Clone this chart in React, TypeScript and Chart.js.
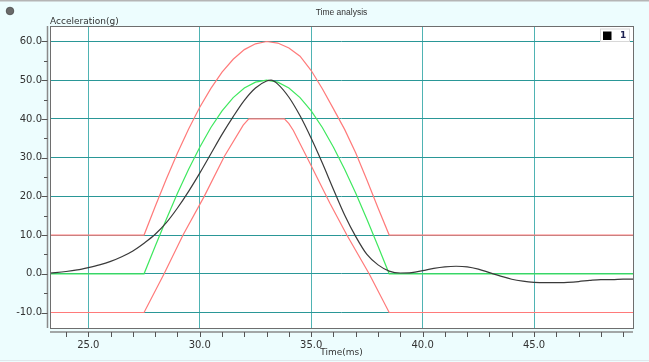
import React, { useEffect, useRef } from "react";
import { Chart, registerables } from "chart.js";

Chart.register(...registerables);

const X_MIN = 23.28;
const X_MAX = 49.44;
const Y_MIN = -14;
const Y_MAX = 64;

const xTickValues = [25, 30, 35, 40, 45];
const yTickValues = [-10, 0, 10, 20, 30, 40, 50, 60];

const measuredTime = [23.28, 24, 24.5, 25, 25.5, 26, 26.5, 27, 27.5, 28, 28.5, 29, 29.5, 30, 30.5, 31, 31.5, 32, 32.5, 33, 33.2, 33.5, 34, 34.5, 35, 35.5, 36, 36.5, 37, 37.5, 38, 38.5, 39, 39.5, 40, 40.5, 41, 41.5, 42, 42.5, 43, 43.5, 44, 44.5, 45, 45.5, 46, 46.5, 47, 47.5, 48, 48.5, 49, 49.44];
const measuredAcc = [0.2, 0.6, 1.0, 1.6, 2.3, 3.2, 4.4, 5.9, 7.9, 10.2, 13.2, 17.0, 21.3, 26.0, 31.0, 36.0, 40.6, 44.8, 48.0, 49.8, 50.0, 49.0, 45.6, 40.8, 35.0, 28.6, 21.8, 15.2, 9.6, 5.0, 2.3, 0.7, 0.2, 0.3, 0.8, 1.4, 1.8, 1.95, 1.8, 1.2, 0.3, -0.6, -1.4, -1.9, -2.2, -2.3, -2.3, -2.2, -2.0, -1.7, -1.5, -1.5, -1.4, -1.4];

const nominalTime = [23.28, 27.5, 28, 28.5, 29, 29.5, 30, 30.5, 31, 31.5, 32, 32.5, 33, 33.5, 34, 34.5, 35, 35.5, 36, 36.5, 37, 37.5, 38, 38.5, 49.44];
const nominalAcc = [0, 0, 7.1, 14.1, 20.8, 27.0, 32.7, 37.8, 42.1, 45.5, 48.0, 49.5, 50.0, 49.5, 48.0, 45.5, 42.1, 37.8, 32.7, 27.0, 20.8, 14.1, 7.1, 0, 0];

const upperTime = [23.28, 27.5, 28, 28.5, 29, 29.5, 30, 30.5, 31, 31.5, 32, 32.5, 33, 33.5, 34, 34.5, 35, 35.5, 36, 36.5, 37, 37.5, 38, 38.5, 49.44];
const upperAcc = [10, 10, 17.4, 24.5, 31.2, 37.4, 43.0, 47.9, 52.1, 55.4, 57.9, 59.4, 60.0, 59.6, 58.3, 56.2, 52.5, 47.8, 42.6, 37.3, 31.2, 24.2, 17.0, 10, 10];

const lowerTime = [23.28, 27.5, 28.4, 29.25, 30.2, 31.1, 31.95, 32.2, 33.8, 34.0, 34.2, 34.95, 35.84, 36.6, 37.6, 38.5, 49.44];
const lowerAcc = [-10, -10, 0, 10, 20, 30.3, 38.4, 40, 40, 38.8, 37, 28.5, 18.2, 10, 0, -10, -10];

const seriesName = "1";
const chartTitle = "Time analysis";
const xTitle = "Time(ms)";
const yTitle = "Acceleration(g)";

const pts = (t: number[], v: number[]) => t.map((x, i) => ({ x, y: v[i] }));

const FONT = "'DejaVu Sans', sans-serif";

const decor = {
  id: "decor",
  beforeDraw(chart: any) {
    const { ctx, chartArea: a, width, height } = chart;
    ctx.save();
    ctx.fillStyle = "#edfdfe";
    ctx.fillRect(0, 0, width, height);
    ctx.fillStyle = "#b5b5b5";
    ctx.fillRect(0, 0, width, 1.5);
    ctx.fillStyle = "#dfe8ec";
    ctx.fillRect(0, height - 2, width, 1);
    ctx.fillStyle = "#ffffff";
    ctx.fillRect(a.left, a.top, a.right - a.left, a.bottom - a.top);
    ctx.beginPath();
    ctx.arc(10, 11, 3.8, 0, Math.PI * 2);
    ctx.fillStyle = "#6a6a6a";
    ctx.fill();
    ctx.strokeStyle = "#4a4a4a";
    ctx.lineWidth = 0.8;
    ctx.stroke();
    ctx.fillStyle = "#333333";
    ctx.font = "8.5px 'Liberation Sans', sans-serif";
    ctx.textAlign = "center";
    ctx.textBaseline = "middle";
    ctx.fillText(chartTitle, (a.left + a.right) / 2, 13);
    ctx.font = `9px ${FONT}`;
    ctx.textAlign = "left";
    ctx.textBaseline = "alphabetic";
    ctx.fillText(yTitle, a.left, 23.5);
    ctx.restore();
  },
  afterDraw(chart: any) {
    const { ctx, chartArea: a, scales } = chart;
    const xs = scales.x;
    const ys = scales.y;
    ctx.save();
    ctx.strokeStyle = "#6e6e6e";
    ctx.lineWidth = 1;
    ctx.strokeRect(Math.round(a.left) + 0.5, Math.round(a.top) + 0.5, Math.round(a.right - a.left), Math.round(a.bottom - a.top));
    ctx.strokeStyle = "#8a8a8a";
    ctx.lineWidth = 1.5;
    const axY = a.bottom + 4;
    const axX = a.left - 2.5;
    ctx.beginPath();
    ctx.moveTo(a.left, axY);
    ctx.lineTo(a.right, axY);
    ctx.moveTo(axX, a.top);
    ctx.lineTo(axX, a.bottom);
    ctx.stroke();
    ctx.lineWidth = 1;
    ctx.strokeStyle = "#555555";
    ctx.beginPath();
    for (let v = 24; v <= 49; v += 1) {
      const px = Math.round(xs.getPixelForValue(v)) + 0.5;
      ctx.moveTo(px, axY);
      ctx.lineTo(px, axY + 5);
    }
    for (let v = -10; v <= 60; v += 5) {
      const py = Math.round(ys.getPixelForValue(v)) + 0.5;
      const len = v % 10 === 0 ? 6 : 3.5;
      ctx.moveTo(axX, py);
      ctx.lineTo(axX - len, py);
    }
    ctx.stroke();
    ctx.fillStyle = "#333333";
    ctx.font = `9px ${FONT}`;
    ctx.textAlign = "center";
    ctx.textBaseline = "middle";
    ctx.fillText(xTitle, (a.left + a.right) / 2, 353);
    const lx = a.right - 33;
    const ly = a.top + 2.5;
    ctx.fillStyle = "#ffffff";
    ctx.fillRect(lx, ly, 29, 12.5);
    ctx.strokeStyle = "#d8d8d8";
    ctx.lineWidth = 1;
    ctx.strokeRect(lx + 0.5, ly + 0.5, 29, 12.5);
    ctx.fillStyle = "#000000";
    ctx.fillRect(lx + 3, ly + 3, 8.5, 8.5);
    ctx.fillStyle = "#1d2050";
    ctx.font = `bold 9px ${FONT}`;
    ctx.textAlign = "left";
    ctx.textBaseline = "middle";
    ctx.fillText(seriesName, lx + 20, ly + 7.5);
    ctx.restore();
  },
};

export default function App() {
  const ref = useRef<HTMLCanvasElement>(null);
  useEffect(() => {
    if (!ref.current) return;
    const lineDs = (label: string, data: any, color: string, w: number, smooth: boolean) => ({
      label,
      data,
      borderColor: color,
      backgroundColor: color,
      borderWidth: w,
      pointRadius: 0,
      showLine: true,
      tension: smooth ? 0.4 : 0,
      cubicInterpolationMode: smooth ? "monotone" : "default",
      fill: false,
    });
    const chart = new Chart(ref.current, {
      type: "scatter",
      data: {
        datasets: [
          lineDs("1", pts(measuredTime, measuredAcc), "#3a3a3a", 1.2, true),
          lineDs("nominal", pts(nominalTime, nominalAcc), "#3ee85e", 1.2, false),
          lineDs("upper", pts(upperTime, upperAcc), "#ff7a7a", 1.2, false),
          lineDs("lower", pts(lowerTime, lowerAcc), "#ff7a7a", 1.2, false),
        ],
      },
      options: {
        animation: false,
        responsive: false,
        maintainAspectRatio: false,
        layout: { padding: { top: 26, right: 16, left: 0, bottom: 0 } },
        plugins: { legend: { display: false }, tooltip: { enabled: false }, title: { display: false } },
        scales: {
          x: {
            type: "linear",
            min: X_MIN,
            max: X_MAX,
            afterBuildTicks: (s: any) => {
              s.ticks = xTickValues.map((v) => ({ value: v }));
            },
            afterFit: (s: any) => {
              s.height = 34;
            },
            ticks: {
              callback: (v: any) => Number(v).toFixed(1),
              font: { family: FONT, size: 10 },
              color: "#333333",
              padding: 11,
              maxRotation: 0,
            },
            grid: { color: "#4fb3b3", lineWidth: 1, drawTicks: false },
            border: { display: false },
          },
          y: {
            type: "linear",
            min: Y_MIN,
            max: Y_MAX,
            afterBuildTicks: (s: any) => {
              s.ticks = yTickValues.map((v) => ({ value: v }));
            },
            afterFit: (s: any) => {
              s.width = 50;
            },
            ticks: {
              callback: (v: any) => Number(v).toFixed(1),
              font: { family: FONT, size: 10 },
              color: "#333333",
              padding: 8,
            },
            grid: { color: "#2a9797", lineWidth: 1, drawTicks: false },
            border: { display: false },
          },
        },
      },
      plugins: [decor],
    });
    return () => chart.destroy();
  }, []);
  return (
    <div style={{ position: "absolute", left: 0, top: 0, width: 649, height: 362 }}>
      <canvas ref={ref} width={649} height={362} style={{ display: "block" }} />
    </div>
  );
}
